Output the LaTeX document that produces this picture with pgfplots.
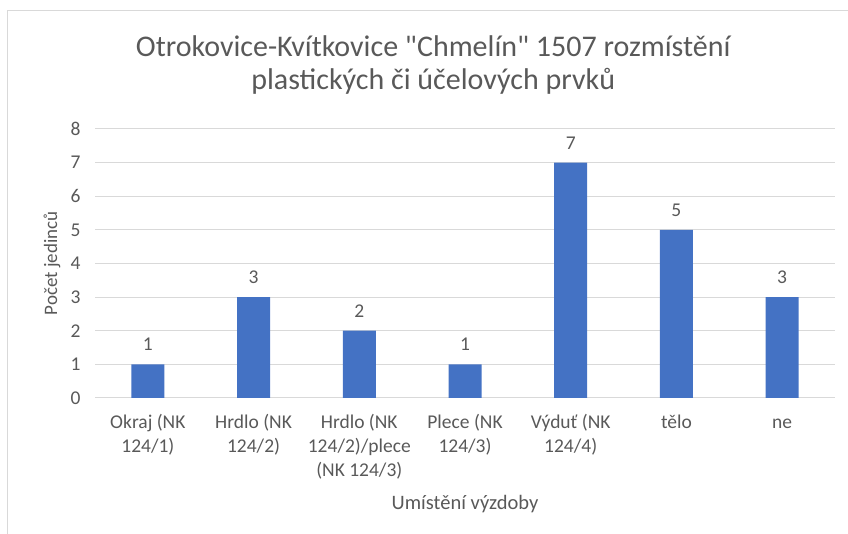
\documentclass[border=0pt]{standalone}
\usepackage{fontspec}
\setmainfont{Carlito}
\usepackage{pgfplots}
\pgfplotsset{compat=1.18}
\definecolor{barblue}{HTML}{4472C4}
\definecolor{txtgray}{HTML}{595959}
\definecolor{gridgray}{HTML}{D9D9D9}
\begin{document}
\begin{tikzpicture}
\useasboundingbox (0,0) rectangle (848pt,534pt);
\draw[gridgray, line width=1pt] (7pt,0) -- (7pt,523pt) -- (848pt,523pt);
\begin{axis}[
  at={(95pt,136pt)}, anchor=south west,
  scale only axis, width=740pt, height=269pt,
  ymin=0, ymax=8, xmin=-0.5, xmax=6.5,
  ytick={0,1,...,8},
  xtick=data,
  xticklabels={{\strut Okraj (NK\\124/1)},{\strut Hrdlo (NK\\124/2)},{\strut Hrdlo (NK\\124/2)/plece\\(NK 124/3)},{\strut Plece (NK\\124/3)},{\strut Výduť (NK\\124/4)},{\strut tělo},{\strut ne}},
  major tick length=0pt,
  axis line style={draw=none},
  ymajorgrids, grid style={gridgray, line width=1pt},
  /pgf/number format/assume math mode=true,
  tick label style={font=\fontsize{19.5}{24}\selectfont, text=txtgray},
  xticklabel style={align=center, anchor=north, yshift=-10pt},
  yticklabel style={xshift=-11pt},
  ylabel={Počet jedinců},
  ylabel style={at={(axis description cs:0,0.5)}, yshift=43pt, anchor=center, font=\fontsize{19}{22}\selectfont, text=txtgray},
  xlabel={Umístění výzdoby},
  xlabel style={at={(axis description cs:0.5,0)}, yshift=-106pt, anchor=center, font=\fontsize{20.5}{24}\selectfont, text=txtgray},
  title={Otrokovice-Kvítkovice \textquotedbl Chmelín\textquotedbl\ 1507 rozmístění\\plastických či účelových prvků},
  title style={at={(axis description cs:0.457,1)}, yshift=58pt, anchor=center, align=center, font=\fontsize{30}{33}\selectfont, text=txtgray},
  nodes near coords,
  every node near coord/.append style={font=\fontsize{19.5}{24}\selectfont, text=txtgray, yshift=10pt},
  clip=false,
]
\addplot[ybar, bar width=33pt, fill=barblue, draw=none] coordinates {(0,1) (1,3) (2,2) (3,1) (4,7) (5,5) (6,3)};
\end{axis}
\end{tikzpicture}
\end{document}
